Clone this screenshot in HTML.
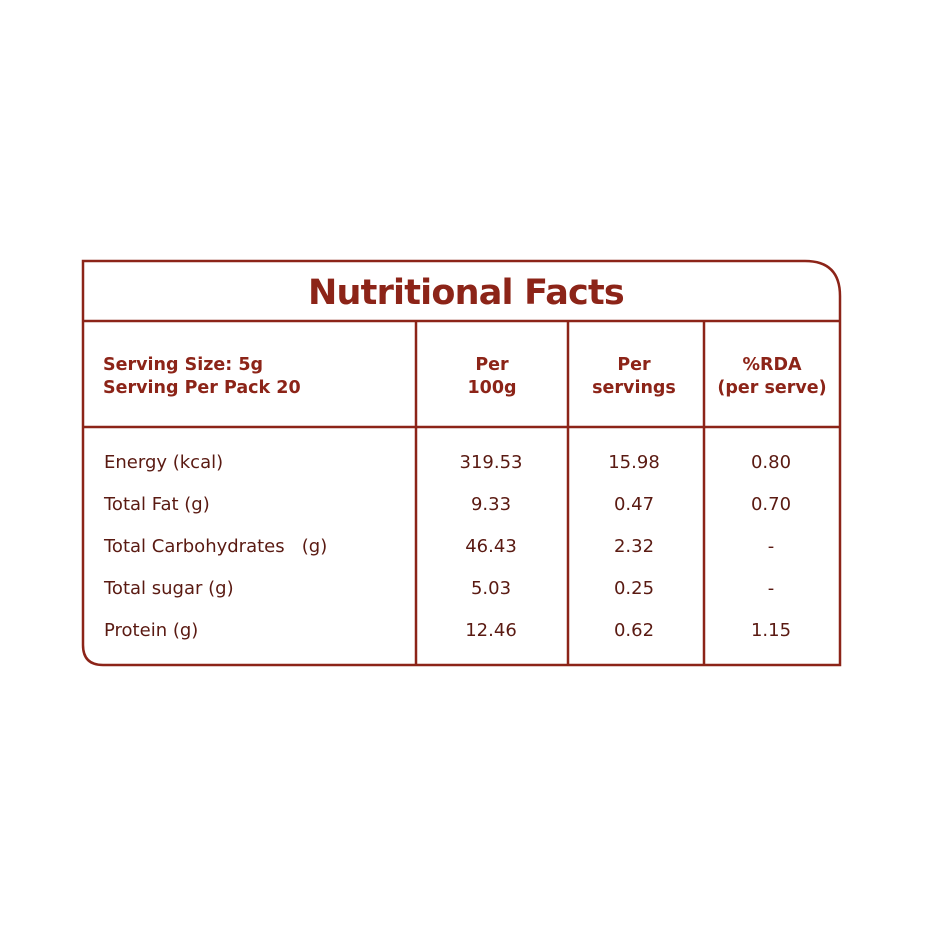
<!DOCTYPE html>
<html><head><style>body{margin:0;background:#fff}</style></head><body>
<svg width="940" height="940" xmlns="http://www.w3.org/2000/svg" font-family="'DejaVu Sans','Liberation Sans',sans-serif">
<g fill="none" stroke="#8c2418" stroke-width="2.5">
<path d="M83,261 H805 Q840,261 840,296 V665 H103 Q83,665 83,645 Z"/>
<line x1="83" y1="321" x2="840" y2="321"/>
<line x1="83" y1="427" x2="840" y2="427"/>
<line x1="416" y1="321" x2="416" y2="665"/>
<line x1="568" y1="321" x2="568" y2="665"/>
<line x1="704" y1="321" x2="704" y2="665"/>
</g>
<g fill="#8c2418">
<text x="466" y="304" font-size="35" font-weight="bold" text-anchor="middle" letter-spacing="-0.8">Nutritional Facts</text>
<g font-size="17.5" font-weight="bold">
<text x="103" y="370">Serving Size: 5g</text>
<text x="103" y="393">Serving Per Pack 20</text>
<text x="492" y="370" text-anchor="middle">Per</text>
<text x="492" y="393" text-anchor="middle">100g</text>
<text x="634" y="370" text-anchor="middle">Per</text>
<text x="634" y="393" text-anchor="middle">servings</text>
<text x="772" y="370" text-anchor="middle">%RDA</text>
<text x="772" y="393" text-anchor="middle">(per serve)</text>
</g>
<g font-size="18" fill="#5a1a12">
<text x="104" y="468">Energy (kcal)</text>
<text x="104" y="510">Total Fat (g)</text>
<text x="104" y="552" xml:space="preserve">Total Carbohydrates   (g)</text>
<text x="104" y="594">Total sugar (g)</text>
<text x="104" y="636">Protein (g)</text>
<g text-anchor="middle">
<text x="491" y="468">319.53</text><text x="634" y="468">15.98</text><text x="771" y="468">0.80</text>
<text x="491" y="510">9.33</text><text x="634" y="510">0.47</text><text x="771" y="510">0.70</text>
<text x="491" y="552">46.43</text><text x="634" y="552">2.32</text><text x="771" y="552">-</text>
<text x="491" y="594">5.03</text><text x="634" y="594">0.25</text><text x="771" y="594">-</text>
<text x="491" y="636">12.46</text><text x="634" y="636">0.62</text><text x="771" y="636">1.15</text>
</g></g></g>
</svg>
</body></html>
